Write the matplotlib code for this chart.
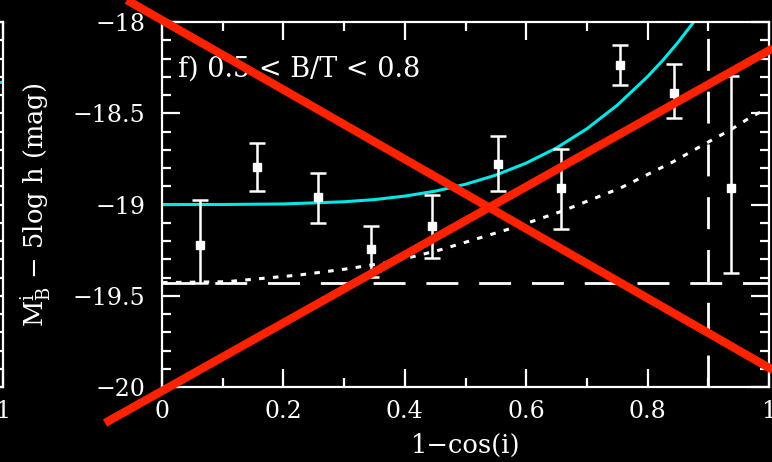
import matplotlib
matplotlib.use("Agg")
import matplotlib.pyplot as plt
from matplotlib.lines import Line2D
from matplotlib.ticker import MultipleLocator

# Binned absolute magnitude vs inclination, bulge fraction 0.5 < B/T < 0.8
incl = [0.062, 0.156, 0.257, 0.345, 0.444, 0.553, 0.657, 0.755, 0.843, 0.937]
mag = [-19.222, -18.793, -18.961, -19.244, -19.116, -18.778, -18.911, -18.236, -18.387, -18.911]
err_low = [0.208, 0.131, 0.139, 0.151, 0.179, 0.146, 0.225, 0.109, 0.141, 0.466]
err_high = [0.247, 0.132, 0.132, 0.126, 0.166, 0.155, 0.213, 0.110, 0.159, 0.615]

# Fitted extinction curve (cyan)
fit_x = [0.0, 0.1, 0.2, 0.3, 0.35, 0.4, 0.45, 0.5, 0.55, 0.6, 0.65, 0.7, 0.75,
         0.8, 0.825, 0.85, 0.876]
fit_y = [-19.000, -19.000, -18.997, -18.985, -18.973, -18.954, -18.927, -18.889,
         -18.839, -18.773, -18.690, -18.585, -18.456, -18.299, -18.210, -18.112, -18.000]

# Model curve (dotted)
model_x = [0.0, 0.107, 0.227, 0.304, 0.381, 0.458, 0.584, 0.661, 0.755, 0.842,
           0.897, 0.936, 0.971, 0.988]
model_y = [-19.428, -19.423, -19.386, -19.353, -19.313, -19.249, -19.122, -19.034,
           -18.910, -18.766, -18.663, -18.592, -18.519, -18.490]

face_on_mag = -19.43
incl_limit = 0.9

# Neighbouring panel (only its right edge falls inside the frame)
prev_x = [0.97, 1.0]
prev_y = [-18.34, -18.33]

FG = "white"
plt.rcParams["font.family"] = ["DejaVu Serif"]
plt.rcParams["mathtext.fontset"] = "dejavuserif"
plt.rcParams["lines.scale_dashes"] = False

W, H = 772, 462
fig = plt.figure(figsize=(W / 100, H / 100), dpi=100, facecolor="black")

def frac(px, py):
    return px / W, 1 - py / H

x0, x1 = 162, 769
y0, y1 = 22, 387
ax = fig.add_axes([x0 / W, 1 - y1 / H, (x1 - x0) / W, (y1 - y0) / H])
axp = fig.add_axes([(3 - (x1 - x0)) / W, 1 - y1 / H, (x1 - x0) / W, (y1 - y0) / H])

for a in (ax, axp):
    a.set_facecolor("black")
    a.set_xlim(0, 1)
    a.set_ylim(-20, -18)
    for s in a.spines.values():
        s.set_color(FG)
        s.set_linewidth(1.6)
    a.tick_params(which="both", direction="in", colors=FG, top=True, right=True,
                  labelsize=17, width=1.6)
    a.tick_params(which="major", length=13)
    a.tick_params(which="minor", length=6.5)
    a.xaxis.set_major_locator(MultipleLocator(0.2))
    a.xaxis.set_minor_locator(MultipleLocator(0.1))
    a.yaxis.set_major_locator(MultipleLocator(0.5))
    a.yaxis.set_minor_locator(MultipleLocator(0.1))

ax.tick_params(axis="x", pad=9)
ax.tick_params(axis="y", pad=12)
ax.set_xticks([0, 0.2, 0.4, 0.6, 0.8, 1.0])
ax.set_xticklabels(["0", "0.2", "0.4", "0.6", "0.8", "1"])
ax.set_yticks([-20, -19.5, -19, -18.5, -18])
ax.set_yticklabels(["\u221220", "\u221219.5", "\u221219", "\u221218.5", "\u221218"])

axp.set_xticks([1.0])
axp.set_xticklabels(["1"])
axp.tick_params(axis="x", pad=9)
axp.set_yticklabels([])
axp.plot(prev_x, prev_y, color="#00e5e5", lw=2)

# reference lines
ax.axhline(face_on_mag, color=FG, lw=2, dashes=(23, 15))
ax.axvline(incl_limit, color=FG, lw=2, dashes=(23, 15))

# curves
ax.plot(fit_x, fit_y, color="#00e8e8", lw=2.2, clip_on=True)
ax.plot(model_x, model_y, color=FG, lw=2.2, dashes=(4, 6))

# data with error bars
ax.errorbar(incl, mag, yerr=[err_low, err_high], fmt="s", color=FG, ms=6,
            mec=FG, mfc=FG, elinewidth=1.8, capsize=5.5, capthick=1.8)

ax.text(0.027, 0.87, "f) 0.5 < B/T < 0.8", transform=ax.transAxes, color=FG,
        fontsize=19.5, va="center", ha="left")

ax.set_xlabel("1\u2212cos(i)", color=FG, fontsize=18.5)
ax.xaxis.set_label_coords(0.5, -0.125)
ax.set_ylabel(r"$\mathrm{M}_\mathrm{B}^\mathrm{i}$ $-$ 5log h (mag)", color=FG, fontsize=18.5)
ax.yaxis.set_label_coords(-0.178, 0.5)

# red cross drawn over the whole figure
red = "#ff2200"
for (ax_, ay_), (bx_, by_) in [((126.8, 0.0), (800.0, 385.5)),
                               ((105.0, 423.0), (800.0, 33.0))]:
    p0 = frac(ax_, ay_)
    p1 = frac(bx_, by_)
    fig.add_artist(Line2D([p0[0], p1[0]], [p0[1], p1[1]], transform=fig.transFigure,
                          color=red, lw=6, solid_capstyle="butt", zorder=50))

fig.savefig("out.png", dpi=100, facecolor="black")
